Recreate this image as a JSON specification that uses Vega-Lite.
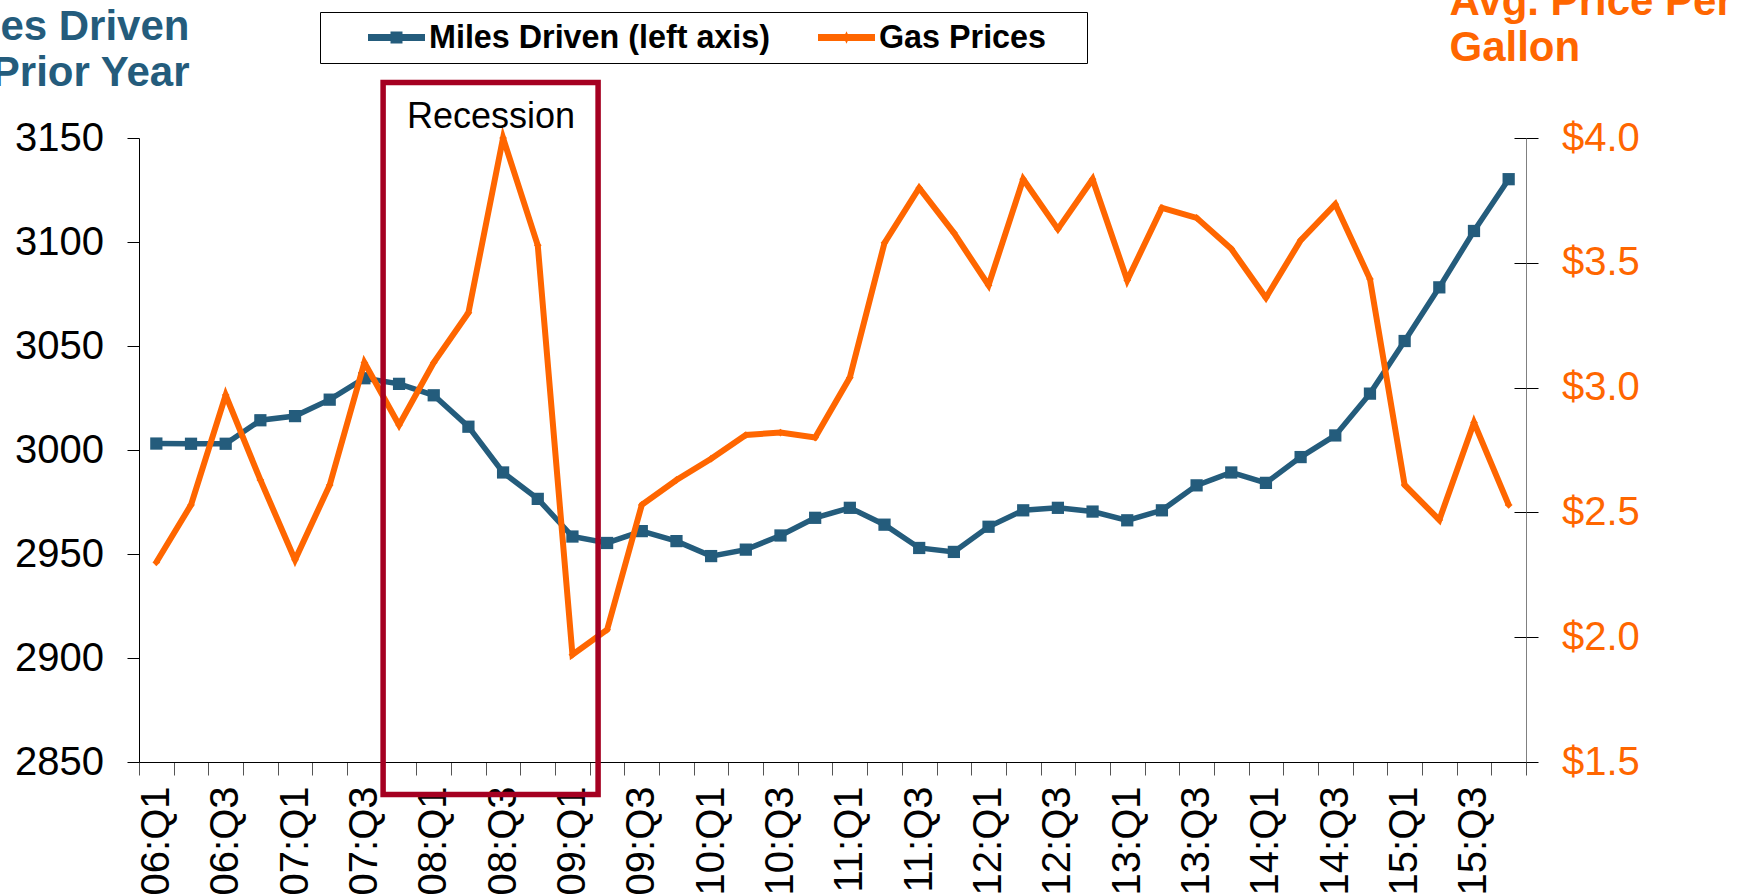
{
  "$schema": "https://vega.github.io/schema/vega-lite/v6.json",
  "width": 1387,
  "height": 624,
  "autosize": {"type": "none"},
  "padding": {"left": 139, "top": 138, "right": 214, "bottom": 133},
  "background": "white",
  "config": {"view": {"stroke": null}, "font": "Liberation Sans"},
  "datasets": {
    "d": [
      {"q": "06:Q1", "miles": 3003.1, "gas": 2.30},
      {"q": "06:Q2", "miles": 3003.0, "gas": 2.53},
      {"q": "06:Q3", "miles": 3003.0, "gas": 2.97},
      {"q": "06:Q4", "miles": 3014.3, "gas": 2.63},
      {"q": "07:Q1", "miles": 3016.3, "gas": 2.31},
      {"q": "07:Q2", "miles": 3024.2, "gas": 2.61},
      {"q": "07:Q3", "miles": 3034.5, "gas": 3.10},
      {"q": "07:Q4", "miles": 3031.8, "gas": 2.85},
      {"q": "08:Q1", "miles": 3026.3, "gas": 3.10},
      {"q": "08:Q2", "miles": 3011.2, "gas": 3.30},
      {"q": "08:Q3", "miles": 2989.2, "gas": 4.00},
      {"q": "08:Q4", "miles": 2976.5, "gas": 3.57},
      {"q": "09:Q1", "miles": 2958.4, "gas": 1.93},
      {"q": "09:Q2", "miles": 2955.3, "gas": 2.03},
      {"q": "09:Q3", "miles": 2961.0, "gas": 2.53},
      {"q": "09:Q4", "miles": 2956.2, "gas": 2.63},
      {"q": "10:Q1", "miles": 2949.0, "gas": 2.715},
      {"q": "10:Q2", "miles": 2952.1, "gas": 2.81},
      {"q": "10:Q3", "miles": 2958.9, "gas": 2.82},
      {"q": "10:Q4", "miles": 2967.4, "gas": 2.80},
      {"q": "11:Q1", "miles": 2972.2, "gas": 3.04},
      {"q": "11:Q2", "miles": 2964.1, "gas": 3.58},
      {"q": "11:Q3", "miles": 2952.9, "gas": 3.80},
      {"q": "11:Q4", "miles": 2951.0, "gas": 3.62},
      {"q": "12:Q1", "miles": 2963.1, "gas": 3.41},
      {"q": "12:Q2", "miles": 2971.0, "gas": 3.835},
      {"q": "12:Q3", "miles": 2972.2, "gas": 3.635},
      {"q": "12:Q4", "miles": 2970.4, "gas": 3.835},
      {"q": "13:Q1", "miles": 2966.2, "gas": 3.43},
      {"q": "13:Q2", "miles": 2971.0, "gas": 3.72},
      {"q": "13:Q3", "miles": 2983.0, "gas": 3.68},
      {"q": "13:Q4", "miles": 2989.2, "gas": 3.556},
      {"q": "14:Q1", "miles": 2984.2, "gas": 3.36},
      {"q": "14:Q2", "miles": 2996.6, "gas": 3.59},
      {"q": "14:Q3", "miles": 3007.0, "gas": 3.735},
      {"q": "14:Q4", "miles": 3027.1, "gas": 3.435},
      {"q": "15:Q1", "miles": 3052.4, "gas": 2.61},
      {"q": "15:Q2", "miles": 3078.2, "gas": 2.47},
      {"q": "15:Q3", "miles": 3105.3, "gas": 2.86},
      {"q": "15:Q4", "miles": 3130.2, "gas": 2.53}
    ],
    "rec": [
      {"label": "Recession", "start": "07:Q4", "end": "09:Q2", "mid": "08:Q3", "top": 3176.7, "bottom": 2834.4, "texty": 3154.8}
    ]
  },
  "layer": [
    {
      "data": {"name": "d"},
      "mark": {"type": "line", "strokeWidth": 5.5, "point": {"shape": "square", "size": 150, "filled": true}},
      "encoding": {
        "x": {
          "field": "q", "type": "ordinal", "bandPosition": 0.5,
          "scale": {"type": "band", "paddingInner": 0, "paddingOuter": 0,
            "domain": ["06:Q1","06:Q2","06:Q3","06:Q4","07:Q1","07:Q2","07:Q3","07:Q4","08:Q1","08:Q2","08:Q3","08:Q4","09:Q1","09:Q2","09:Q3","09:Q4","10:Q1","10:Q2","10:Q3","10:Q4","11:Q1","11:Q2","11:Q3","11:Q4","12:Q1","12:Q2","12:Q3","12:Q4","13:Q1","13:Q2","13:Q3","13:Q4","14:Q1","14:Q2","14:Q3","14:Q4","15:Q1","15:Q2","15:Q3","15:Q4"]},
          "axis": {
            "orient": "bottom", "tickBand": "extent", "domainColor": "black", "domainWidth": 1,
            "tickColor": "#555555", "tickSize": 13, "tickWidth": 1,
            "labelAngle": -90, "labelAlign": "right", "labelBaseline": "middle",
            "labelFont": "Liberation Sans", "labelFontSize": 40, "labelColor": "black", "labelPadding": 11,
            "labelOverlap": false, "labelFlush": false,
            "labelExpr": "isString(datum.value) && (indexof(datum.value, 'Q1') >= 0 || indexof(datum.value, 'Q3') >= 0) ? datum.value : ''",
            "title": null
          }
        },
        "y": {
          "field": "miles", "type": "quantitative",
          "scale": {"domain": [2850, 3150], "nice": false, "zero": false},
          "axis": {
            "orient": "left", "values": [2850, 2900, 2950, 3000, 3050, 3100, 3150], "format": "d", "grid": false,
            "domainColor": "black", "domainWidth": 1, "tickColor": "black", "tickSize": 12, "tickWidth": 1,
            "labelFont": "Liberation Sans", "labelFontSize": 40, "labelColor": "black", "labelPadding": 23.5,
            "title": ["Miles Driven", "Prior Year"], "titleFont": "Liberation Sans", "titleFontSize": 42,
            "titleFontWeight": "bold", "titleColor": "#245C7C", "titleAngle": 0, "titleAlign": "right",
            "titleBaseline": "alphabetic", "titleX": 50, "titleY": -99, "titleLineHeight": 46
          }
        },
        "color": {
          "datum": "Miles Driven (left axis)", "type": "nominal",
          "scale": {"domain": ["Miles Driven (left axis)", "Gas Prices"], "range": ["#245C7C", "#FF6600"]},
          "legend": {
            "orient": "none", "legendX": 181, "legendY": -126, "direction": "horizontal",
            "title": ".", "titleOrient": "right", "titleFontSize": 10, "titleOpacity": 0, "titlePadding": 29,
            "padding": 9, "strokeColor": "black", "fillColor": "white",
            "labelFont": "Liberation Sans", "labelFontSize": 32.3, "labelFontWeight": "bold", "labelColor": "black",
            "labelLimit": 1000, "labelOffset": 4, "symbolOffset": 39, "columnPadding": 8, "clipHeight": 33,
            "symbolSize": 3249,
            "encode": {
              "symbols": {
                "update": {
                  "shape": {"signal": "datum.value === 'Gas Prices' ? 'M-1,-0.12L1,-0.12L1,0.12L-1,0.12Z M0,-0.22L0.1,0L0,0.22L-0.1,0Z' : 'M-1,-0.12L1,-0.12L1,0.12L-1,0.12Z M-0.21,-0.21L0.21,-0.21L0.21,0.21L-0.21,0.21Z'"},
                  "fill": {"signal": "datum.value === 'Gas Prices' ? '#FF6600' : '#245C7C'"},
                  "stroke": {"value": "transparent"},
                  "strokeWidth": {"value": 0},
                  "size": {"value": 3249},
                  "opacity": {"value": 1}
                }
              }
            }
          }
        }
      }
    },
    {
      "data": {"name": "d"},
      "mark": {"type": "line", "strokeWidth": 6, "point": {"shape": "diamond", "size": 60, "filled": true}},
      "encoding": {
        "x": {"field": "q", "type": "ordinal", "bandPosition": 0.5, "scale": {"type": "band"}, "axis": null},
        "y": {
          "field": "gas", "type": "quantitative",
          "scale": {"domain": [1.5, 4.0], "nice": false, "zero": false},
          "axis": {
            "orient": "right", "values": [1.5, 2.0, 2.5, 3.0, 3.5, 4.0], "format": "$.1f", "grid": false,
            "domainColor": "#808080", "domainWidth": 1, "tickColor": "black", "tickSize": 12, "tickWidth": 1,
            "labelFont": "Liberation Sans", "labelFontSize": 40, "labelColor": "#FF6600", "labelPadding": 23.5,
            "title": ["Avg. Price Per", "Gallon"], "titleFont": "Liberation Sans", "titleFontSize": 42,
            "titleFontWeight": "bold", "titleColor": "#FF6600", "titleAngle": 0, "titleAlign": "left",
            "titleBaseline": "alphabetic", "titleX": -77, "titleY": -124, "titleLineHeight": 46
          }
        },
        "color": {
          "datum": "Gas Prices", "type": "nominal",
          "legend": {
            "orient": "none", "legendX": 181, "legendY": -126, "direction": "horizontal",
            "title": ".", "titleOrient": "right", "titleFontSize": 10, "titleOpacity": 0, "titlePadding": 29,
            "padding": 9, "strokeColor": "black", "fillColor": "white",
            "labelFont": "Liberation Sans", "labelFontSize": 32.3, "labelFontWeight": "bold", "labelColor": "black",
            "labelLimit": 1000, "labelOffset": 4, "symbolOffset": 39, "columnPadding": 8, "clipHeight": 33,
            "symbolSize": 3249
          }
        }
      }
    },
    {
      "data": {"name": "rec"},
      "layer": [
        {
          "mark": {"type": "rect", "fill": "transparent", "stroke": "#A50021", "strokeWidth": 5.5, "clip": false},
          "encoding": {
            "x": {"field": "start", "type": "ordinal", "bandPosition": 0.04, "scale": {"type": "band"},
              "axis": {"orient": "bottom", "tickBand": "extent", "tickSize": -12, "tickColor": "#555555", "tickWidth": 1, "labels": false, "domain": false, "title": null}},
            "x2": {"field": "end", "bandPosition": 0.24},
            "y": {"field": "top", "type": "quantitative", "scale": {"domain": [2850, 3150], "nice": false, "zero": false},
              "axis": {"orient": "left", "values": [2850, 2900, 2950, 3000, 3050, 3100, 3150], "tickSize": -12, "tickColor": "black", "tickWidth": 1, "labels": false, "domain": false, "grid": false, "title": null}},
            "y2": {"field": "bottom"}
          }
        },
        {
          "mark": {"type": "text", "font": "Liberation Sans", "fontSize": 36, "color": "black", "align": "center", "baseline": "alphabetic"},
          "encoding": {
            "x": {"field": "mid", "type": "ordinal", "bandPosition": 0.15, "scale": {"type": "band"}, "axis": null},
            "y": {"field": "texty", "type": "quantitative", "scale": {"domain": [2850, 3150], "nice": false, "zero": false}, "axis": null},
            "text": {"field": "label"}
          }
        }
      ]
    },
    {
      "data": {"name": "d"},
      "mark": {"type": "point", "opacity": 0},
      "encoding": {
        "x": {"field": "q", "type": "ordinal", "bandPosition": 0.5, "scale": {"type": "band"}, "axis": null},
        "y": {"field": "gas", "type": "quantitative", "scale": {"domain": [1.5, 4.0], "nice": false, "zero": false},
          "axis": {"orient": "right", "values": [1.5, 2.0, 2.5, 3.0, 3.5, 4.0], "tickSize": -12, "tickColor": "black", "tickWidth": 1, "labels": false, "domain": false, "grid": false, "title": null}}
      }
    }
  ],
  "resolve": {"scale": {"y": "independent"}, "axis": {"y": "independent", "x": "independent"}}
}
